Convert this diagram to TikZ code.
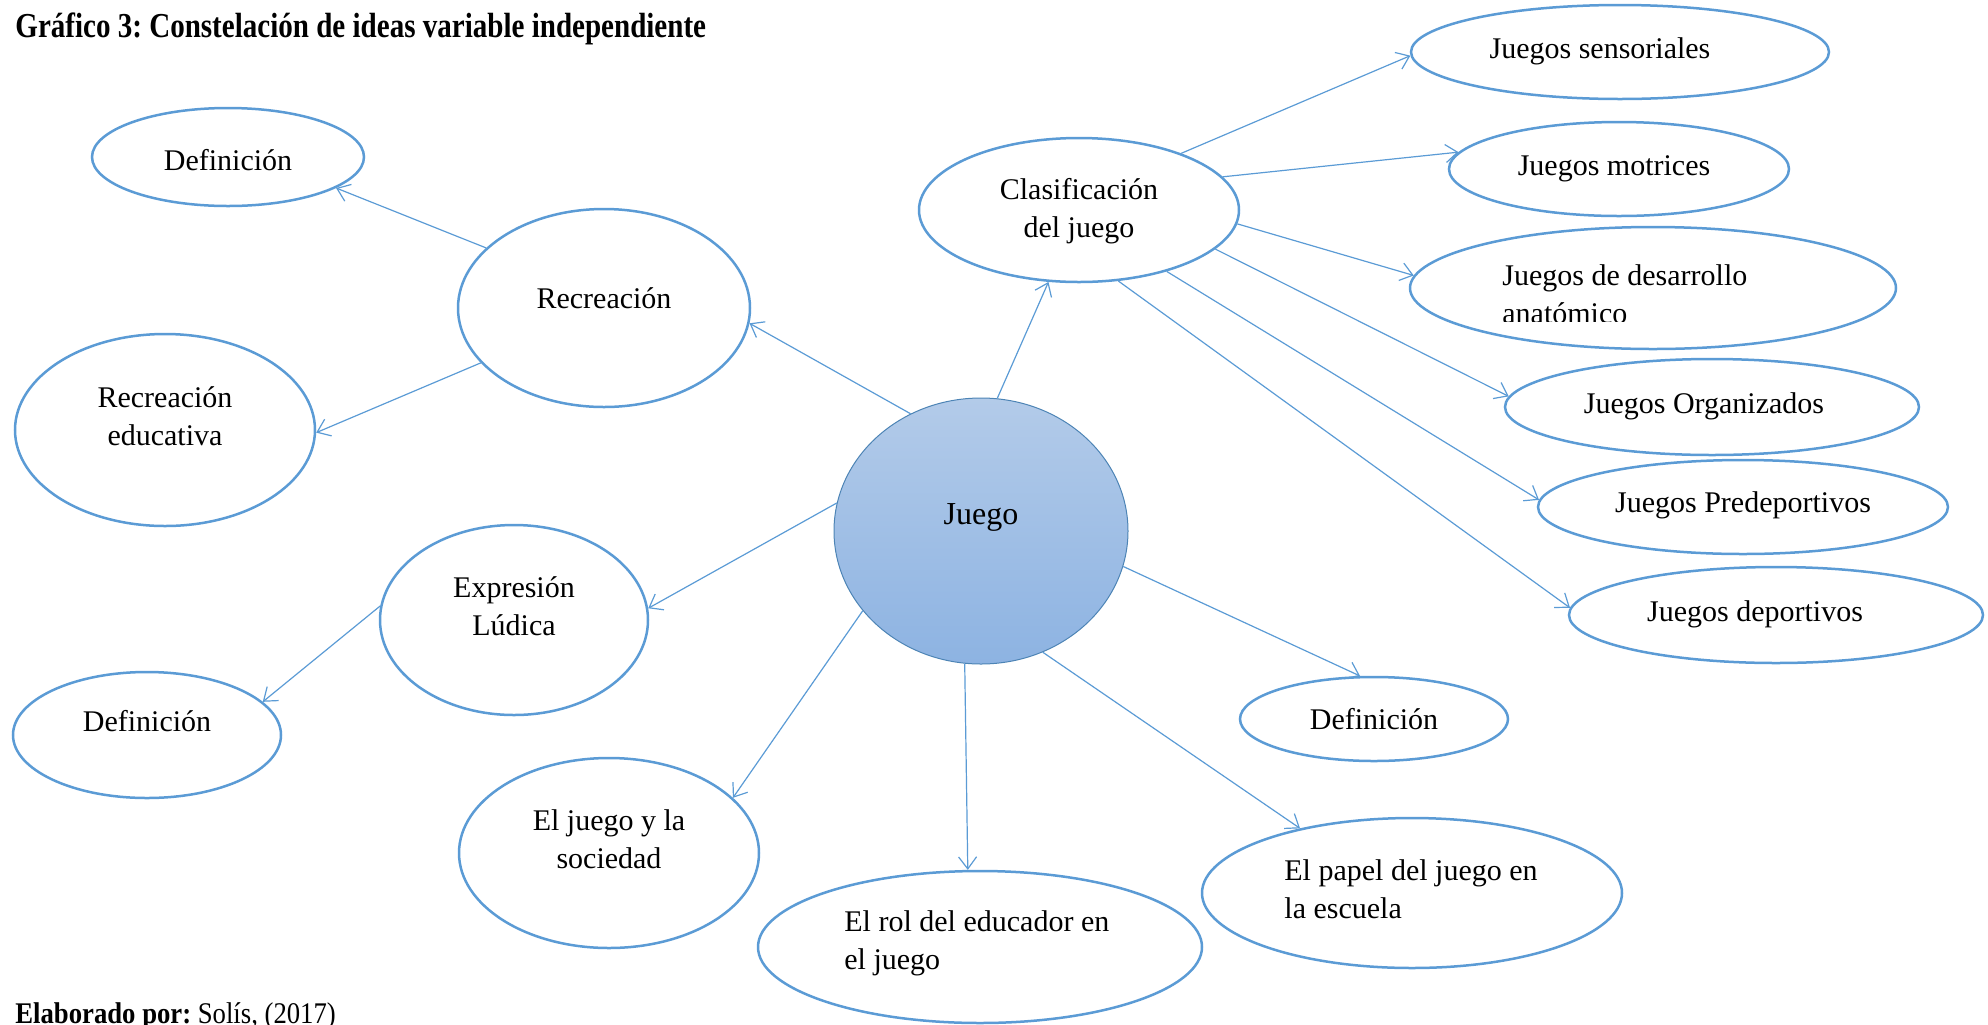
\documentclass[tikz,border=0pt]{standalone}
\usepackage{fontspec}
\setmainfont{Liberation Serif}
\newfontfamily\titlefont[FakeStretch=0.83]{Liberation Serif}
\newfontfamily\footfont[FakeStretch=0.89]{Liberation Serif}
\usetikzlibrary{shapes.geometric,arrows.meta}
\definecolor{eblue}{HTML}{5B9BD5}
\definecolor{jtop}{HTML}{B3CBE9}
\definecolor{jbot}{HTML}{8DB3E2}
\begin{document}
\frenchspacing
\begin{tikzpicture}[x=0.5pt,y=-0.5pt,
  ell/.style={ellipse,draw=eblue,line width=1.25pt,inner sep=0pt,fill=white},
  txt/.style={inner sep=0pt,font=\fontsize{15}{19}\selectfont,text=black},
  conn/.style={draw=eblue,line width=0.6pt,-{Straight Barb[length=6pt,width=9pt,line width=0.6pt]}}]
\useasboundingbox (0,0) rectangle (1988,1024);
% ellipses
\node[ell,minimum width=272pt*0.5,minimum height=98pt*0.5] (defa) at (228,157) {};
\node[ell,minimum width=292pt*0.5,minimum height=198pt*0.5] (rec) at (604,308) {};
\node[ell,minimum width=300pt*0.5,minimum height=192pt*0.5] (redu) at (165,430) {};
\node[ell,minimum width=320pt*0.5,minimum height=144pt*0.5] (clas) at (1079,210) {};
\node[ell,minimum width=418pt*0.5,minimum height=94pt*0.5] (sens) at (1620,52) {};
\node[ell,minimum width=340pt*0.5,minimum height=94pt*0.5] (mot) at (1619,169) {};
\node[ell,minimum width=486pt*0.5,minimum height=122pt*0.5] (des) at (1653,288) {};
\node[ell,minimum width=414pt*0.5,minimum height=96pt*0.5] (org) at (1712,407) {};
\node[ell,minimum width=410pt*0.5,minimum height=94pt*0.5] (pre) at (1743,507) {};
\node[ell,minimum width=414pt*0.5,minimum height=96pt*0.5] (dep) at (1776,615) {};
\node[ellipse,draw=eblue!85!black,line width=0.5pt,inner sep=0pt,top color=jtop,bottom color=jbot,minimum width=294pt*0.5,minimum height=266pt*0.5] (juego) at (981,531) {};
\node[ell,minimum width=268pt*0.5,minimum height=190pt*0.5] (exp) at (514,620) {};
\node[ell,minimum width=268pt*0.5,minimum height=126pt*0.5] (defb) at (147,735) {};
\node[ell,minimum width=300pt*0.5,minimum height=190pt*0.5] (soc) at (609,853) {};
\node[ell,minimum width=444pt*0.5,minimum height=152pt*0.5] (rol) at (980,947) {};
\node[ell,minimum width=268pt*0.5,minimum height=84pt*0.5] (defc) at (1374,719) {};
\node[ell,minimum width=420pt*0.5,minimum height=150pt*0.5] (pap) at (1412,893) {};
% texts
\node[inner sep=0pt,anchor=west,font=\titlefont\bfseries\fontsize{17.5}{20}\selectfont] (title) at (15,29) {Gráfico 3: Constelación de ideas variable independiente};
\node[inner sep=0pt,anchor=west,font=\footfont\fontsize{15}{19}\selectfont] (foot) at (15,1016) {\textbf{Elaborado por:} Solís, (2017)};
\node[txt] (tdefa) at (228,160) {Definición};
\node[txt] (trec) at (604,298) {Recreación};
\node[txt,align=center] (tredu) at (165,416) {Recreación\\educativa};
\node[txt,align=center] (tclas) at (1079,211) {Clasificación\\del juego};
\node[txt] (tsens) at (1600,51) {Juegos sensoriales};
\node[txt] (tmot) at (1614,169) {Juegos motrices};
\begin{scope}
\clip (1450,230) rectangle (1900,321);
\node[txt,align=left,anchor=west] (tdes) at (1502,294) {Juegos de desarrollo\\anatómico};
\end{scope}
\node[txt] (torg) at (1704,406) {Juegos Organizados};
\node[txt] (tpre) at (1743,505) {Juegos Predeportivos};
\node[txt] (tdep) at (1755,614) {Juegos deportivos};
\node[txt,font=\fontsize{16}{19}\selectfont] (tjuego) at (981,517) {Juego};
\node[txt,align=center] (texp) at (514,606) {Expresión\\Lúdica};
\node[txt] (tdefb) at (147,721) {Definición};
\node[txt,align=center] (tsoc) at (609,839) {El juego y la\\sociedad};
\node[txt,align=left,anchor=west] (trol) at (844,943) {El rol del educador en\\el juego};
\node[txt] (tdefc) at (1374,719) {Definición};
\node[txt,align=left,anchor=west] (tpap) at (1284,889) {El papel del juego en\\la escuela};
% connectors
\draw[conn] (rec.153) -- (defa.344.6);
\draw[conn] (rec.204) -- (redu.359);
\draw[conn] (juego.121.5) -- (rec.354.2);
\draw[conn] (juego.83.1) -- (clas.247.7);
\draw[conn] (clas.29.1) -- (sens.181);
\draw[conn] (clas.13.4) -- (mot.174.5);
\draw[conn] (clas.355.7) -- (des.177.6);
\draw[conn] (clas.344.3) -- (org.177);
\draw[conn] (clas.325) -- (pre.178.3);
\draw[conn] (clas.299.5) -- (dep.178.3);
\draw[conn] (juego.169.3) -- (exp.5.5);
\draw[conn] (exp.174.5) -- (defb.16.9);
\draw[conn] (juego.214.5) -- (soc.24.2);
\draw[conn] (juego.263.4) -- (rol.99.7);
\draw[conn] (juego.346.1) -- (defc.108.8);
\draw[conn] (juego.297.1) -- (pap.150.4);
\end{tikzpicture}
\end{document}
